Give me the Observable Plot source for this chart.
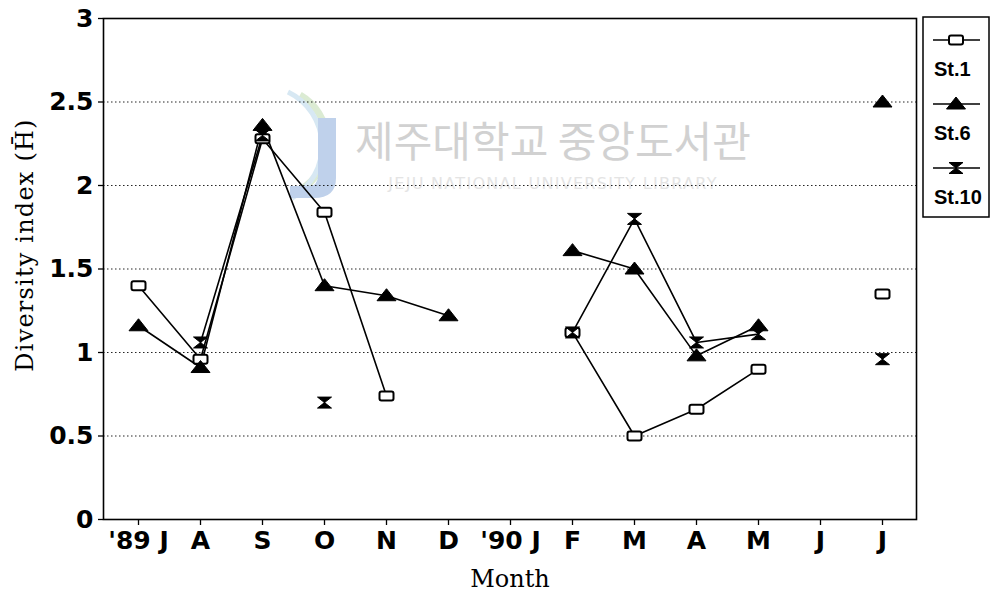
<!DOCTYPE html>
<html><head><meta charset="utf-8">
<script src="https://cdn.jsdelivr.net/npm/d3@7"></script>
<script src="https://cdn.jsdelivr.net/npm/@observablehq/plot@0.6"></script>
<style>
html,body{margin:0;padding:0;background:#fff;}
#chart{width:990px;height:593px;}
</style></head><body><div id="chart"></div>
<script>
// ---- data ----
const monthLabels = ["'89 J","A","S","O","N","D","'90 J","F","M","A","M","J","J"];
const yTicks = [0, 0.5, 1, 1.5, 2, 2.5, 3];
const seriesNames = ["St.1", "St.6", "St.10"];
const st1  = [1.40, 0.96, 2.28, 1.84, 0.74, null, null, 1.12, 0.50, 0.66, 0.90, null, 1.35];
const st1Seg  = [1, 1, 1, 1, 1, 0, 0, 2, 2, 2, 2, 0, 3];
const st6  = [1.16, 0.91, 2.36, 1.40, 1.34, 1.22, null, 1.61, 1.50, 0.98, 1.16, null, 2.50];
const st6Seg  = [1, 1, 1, 1, 1, 1, 0, 2, 2, 2, 2, 0, 3];
const st10 = [null, 1.06, 2.30, 0.70, null, null, null, 1.12, 1.80, 1.06, 1.11, null, 0.96];
const st10Seg = [0, 1, 1, 2, 0, 0, 0, 3, 3, 3, 3, 0, 4];

// ---- helpers ----
const rows = (vals, seg) => vals.map((v, i) => ({i, v, seg: seg[i]})).filter(d => d.v != null);
const d1 = rows(st1, st1Seg), d6 = rows(st6, st6Seg), d10 = rows(st10, st10Seg);

const symRect = {draw(ctx) {
  const w = 7, h = 4.5, r = 2;
  ctx.moveTo(-w + r, -h); ctx.lineTo(w - r, -h); ctx.arcTo(w, -h, w, -h + r, r);
  ctx.lineTo(w, h - r); ctx.arcTo(w, h, w - r, h, r);
  ctx.lineTo(-w + r, h); ctx.arcTo(-w, h, -w, h - r, r);
  ctx.lineTo(-w, -h + r); ctx.arcTo(-w, -h, -w + r, -h, r); ctx.closePath();
}};
const symTri = {draw(ctx) { ctx.moveTo(0, -7); ctx.lineTo(9.5, 5); ctx.lineTo(-9.5, 5); ctx.closePath(); }};
const symHour = {draw(ctx) {
  ctx.moveTo(-7, -5.5); ctx.lineTo(7, -5.5); ctx.lineTo(0, 0); ctx.closePath();
  ctx.moveTo(0, 0); ctx.lineTo(7, 5.5); ctx.lineTo(-7, 5.5); ctx.closePath();
}};

const lineOpts = {x: "i", y: "v", z: "seg", stroke: "black", strokeWidth: 1.6, curve: "linear"};

const plot = Plot.plot({
  width: 990, height: 593,
  marginLeft: 103, marginRight: 74, marginTop: 18, marginBottom: 74,
  style: {fontFamily: "DejaVu Sans", fontSize: "25px", fontWeight: "bold", color: "black", background: "white", overflow: "visible"},
  x: {type: "point", domain: d3.range(monthLabels.length), padding: 0.5, axis: null, label: null},
  y: {domain: [0, 3], axis: null, label: null},
  marks: [
    Plot.gridY(yTicks.filter(t => t > 0 && t < 3), {stroke: "black", strokeOpacity: 0.85, strokeWidth: 1.1, strokeDasharray: "1.5,2.5"}),
    Plot.axisX({tickSize: 6, tickPadding: 6, tickFormat: i => monthLabels[i], stroke: "black", strokeWidth: 1.3, label: null}),
    Plot.axisY({ticks: yTicks, tickSize: 5, tickPadding: 5, tickFormat: d => String(d), stroke: "black", strokeWidth: 1.3, label: null}),
    Plot.frame({stroke: "black", strokeWidth: 1.6}),
    Plot.line(d10, lineOpts),
    Plot.line(d6, lineOpts),
    Plot.line(d1, lineOpts),
    Plot.dot(d1, {x: "i", y: "v", symbol: symRect, fill: "white", stroke: "black", strokeWidth: 2}),
    Plot.dot(d6, {x: "i", y: "v", symbol: symTri, fill: "black", stroke: "black", strokeWidth: 1}),
    Plot.dot(d10, {x: "i", y: "v", symbol: symHour, fill: "black", stroke: "black", strokeWidth: 1})
  ]
});
document.getElementById("chart").appendChild(plot);

const svg = d3.select(plot);
// ---- watermark (behind data) ----
const wm = svg.insert("g", ":scope > g").attr("class", "watermark").attr("opacity", 0.9);
wm.append("path").attr("d", "M300,95 A55,55 0 0 1 300,190").attr("fill", "none").attr("stroke", "#d8e9cf").attr("stroke-width", 7);
wm.append("path").attr("d", "M288,92 A60,60 0 0 1 292,198").attr("fill", "none").attr("stroke", "#d3e6f2").attr("stroke-width", 5);
wm.append("path").attr("d", "M318,118 L336,118 L336,178 Q336,198 314,198 L290,198 L290,186 L308,186 Q318,186 318,176 Z").attr("fill", "#b9cde9");
wm.append("text").attr("x", 553).attr("y", 157).attr("text-anchor", "middle")
  .attr("font-family", "Noto Sans CJK KR").attr("font-size", 42).attr("font-weight", 400)
  .attr("letter-spacing", 0).attr("fill", "#cdcdcd").text("제주대학교 중앙도서관");
wm.append("text").attr("x", 553).attr("y", 189).attr("text-anchor", "middle")
  .attr("font-family", "DejaVu Sans").attr("font-size", 16).attr("font-weight", "normal")
  .attr("letter-spacing", 1.3).attr("fill", "#e2e2e2").text("JEJU NATIONAL UNIVERSITY LIBRARY");

// ---- axis titles ----
svg.append("text").attr("transform", "translate(33,245) rotate(-90)").attr("text-anchor", "middle")
  .attr("font-family", "DejaVu Serif").attr("font-size", 24).attr("font-weight", "normal")
  .attr("letter-spacing", 1.2).attr("fill", "black").text("Diversity index (H\u0304)");
svg.append("text").attr("x", 510).attr("y", 587).attr("text-anchor", "middle")
  .attr("font-family", "DejaVu Serif").attr("font-size", 24).attr("font-weight", "normal")
  .attr("fill", "black").text("Month");

// ---- legend ----
const lg = svg.append("g").attr("class", "legend");
lg.append("rect").attr("x", 923).attr("y", 17).attr("width", 66).attr("height", 200)
  .attr("fill", "white").attr("stroke", "black").attr("stroke-width", 1.5);
const legendSyms = [
  {sym: symRect, fill: "white", sw: 2},
  {sym: symTri, fill: "black", sw: 1},
  {sym: symHour, fill: "black", sw: 1}
];
seriesNames.forEach((name, k) => {
  const ly = 40 + k * 64;
  lg.append("line").attr("x1", 933).attr("x2", 980).attr("y1", ly).attr("y2", ly)
    .attr("stroke", "black").attr("stroke-width", 1.5);
  lg.append("path").attr("transform", `translate(956,${ly})`)
    .attr("d", d3.symbol().type(legendSyms[k].sym)())
    .attr("fill", legendSyms[k].fill).attr("stroke", "black").attr("stroke-width", legendSyms[k].sw);
  lg.append("text").attr("x", 934).attr("y", ly + 36).attr("text-anchor", "start")
    .attr("font-family", "Liberation Sans").attr("font-size", 20).attr("font-weight", "bold")
    .attr("fill", "black").text(name);
});
</script></body></html>
